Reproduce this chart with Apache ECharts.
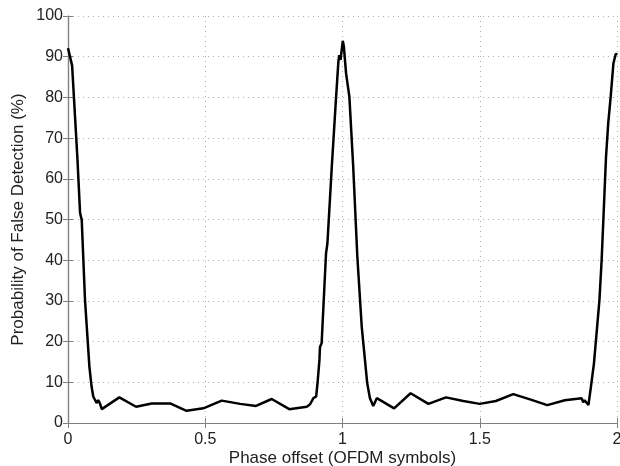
<!DOCTYPE html>
<html>
<head>
<meta charset="utf-8">
<script src="https://cdn.jsdelivr.net/npm/echarts@6/dist/echarts.min.js"></script>
<style>html,body{margin:0;padding:0;background:#fff;}#c{width:620px;height:466px;}</style>
</head>
<body>
<div id="c"></div>
<script>
const xTicks = [0, 0.5, 1, 1.5, 2];
const yTicks = [0, 10, 20, 30, 40, 50, 60, 70, 80, 90, 100];
const phaseOffset = [
  0.000, 0.015, 0.034, 0.044, 0.050, 0.062, 0.078, 0.086, 0.092, 0.104, 0.110, 0.116, 0.123,
  0.187, 0.248, 0.305, 0.372, 0.432, 0.493, 0.560, 0.627, 0.685, 0.742, 0.806, 0.870,
  0.882, 0.888, 0.894, 0.904, 0.909, 0.916, 0.918, 0.924, 0.940, 0.945, 0.961, 0.976,
  0.985, 0.988, 0.993, 0.997, 1.001, 1.005, 1.013, 1.025, 1.039, 1.054, 1.070, 1.090,
  1.100, 1.112, 1.125, 1.188, 1.248, 1.313, 1.377, 1.440, 1.500, 1.559, 1.622, 1.683,
  1.746, 1.810, 1.871, 1.877, 1.882, 1.896, 1.905, 1.916, 1.936, 1.944, 1.960, 1.968,
  1.977, 1.987, 1.996, 2.000
];
const falseDetection = [
  92.1, 87.8, 65.4, 51.6, 49.9, 30.2, 13.8, 8.9, 6.5, 4.9, 5.6, 4.9, 3.4,
  6.3, 4.0, 4.8, 4.8, 3.0, 3.6, 5.5, 4.7, 4.2, 5.9, 3.4, 4.0,
  4.6, 4.3, 6.1, 6.5, 9.8, 15.5, 18.7, 19.6, 41.7, 44.1, 63.0, 79.4,
  88.8, 90.4, 89.2, 91.6, 93.9, 92.5, 85.9, 80.2, 63.0, 40.9, 23.7, 9.8,
  6.1, 4.2, 6.1, 3.6, 7.3, 4.7, 6.3, 5.4, 4.7, 5.4, 7.1, 5.8,
  4.4, 5.6, 6.1, 5.1, 5.6, 4.4, 8.9, 14.6, 30.2, 40.0, 65.4, 73.6,
  80.2, 88.4, 90.8, 90.4
];
const xLabel = 'Phase offset (OFDM symbols)';
const yLabel = 'Probability of False Detection (%)';

const font = 'Liberation Sans, Arial, Helvetica, sans-serif';
const axisColor = '#808080';
const chart = echarts.init(document.getElementById('c'), null, {renderer: 'canvas'});
const seriesData = phaseOffset.map((x, i) => [x, falseDetection[i]]);

const commonAxis = {
  type: 'value',
  axisLine: {show: true, lineStyle: {color: axisColor, width: 1.2}},
  axisTick: {show: true, inside: true, length: 5, lineStyle: {color: axisColor}},
};

chart.setOption({
  animation: false,
  backgroundColor: '#fff',
  grid: {left: 68, right: 3, top: 16, bottom: 43, containLabel: false, outerBoundsMode: 'none'},
  xAxis: [
    Object.assign({}, commonAxis, {
      min: xTicks[0], max: xTicks[xTicks.length - 1], interval: xTicks[1] - xTicks[0],
      position: 'bottom',
      axisLabel: {fontSize: 16, color: '#222', margin: 9, fontFamily: font},
      splitLine: {show: true, lineStyle: {type: [1, 4], color: '#b0b0b0', width: 1}},
      name: xLabel, nameLocation: 'middle', nameGap: 27, nameMoveOverlap: false,
      nameTextStyle: {fontSize: 17, color: '#222', fontFamily: font}
    }),
    Object.assign({}, commonAxis, {
      min: xTicks[0], max: xTicks[xTicks.length - 1], interval: xTicks[1] - xTicks[0],
      position: 'top', axisLabel: {show: false}, splitLine: {show: false}
    })
  ],
  yAxis: [
    Object.assign({}, commonAxis, {
      min: yTicks[0], max: yTicks[yTicks.length - 1], interval: yTicks[1] - yTicks[0],
      position: 'left',
      axisLabel: {fontSize: 16, color: '#222', margin: 5, fontFamily: font},
      splitLine: {show: true, lineStyle: {type: [1, 4], color: '#b0b0b0', width: 1}},
      name: yLabel, nameLocation: 'middle', nameGap: 41, nameRotate: 90, nameMoveOverlap: false,
      nameTextStyle: {fontSize: 17, color: '#222', fontFamily: font}
    }),
    Object.assign({}, commonAxis, {
      min: yTicks[0], max: yTicks[yTicks.length - 1], interval: yTicks[1] - yTicks[0],
      position: 'right', axisLabel: {show: false}, splitLine: {show: false}
    })
  ],
  series: [{
    type: 'line',
    xAxisIndex: 0, yAxisIndex: 0,
    data: seriesData,
    showSymbol: false,
    symbol: 'none',
    lineStyle: {color: '#000', width: 2.5},
    clip: true
  }]
});
</script>
</body>
</html>
